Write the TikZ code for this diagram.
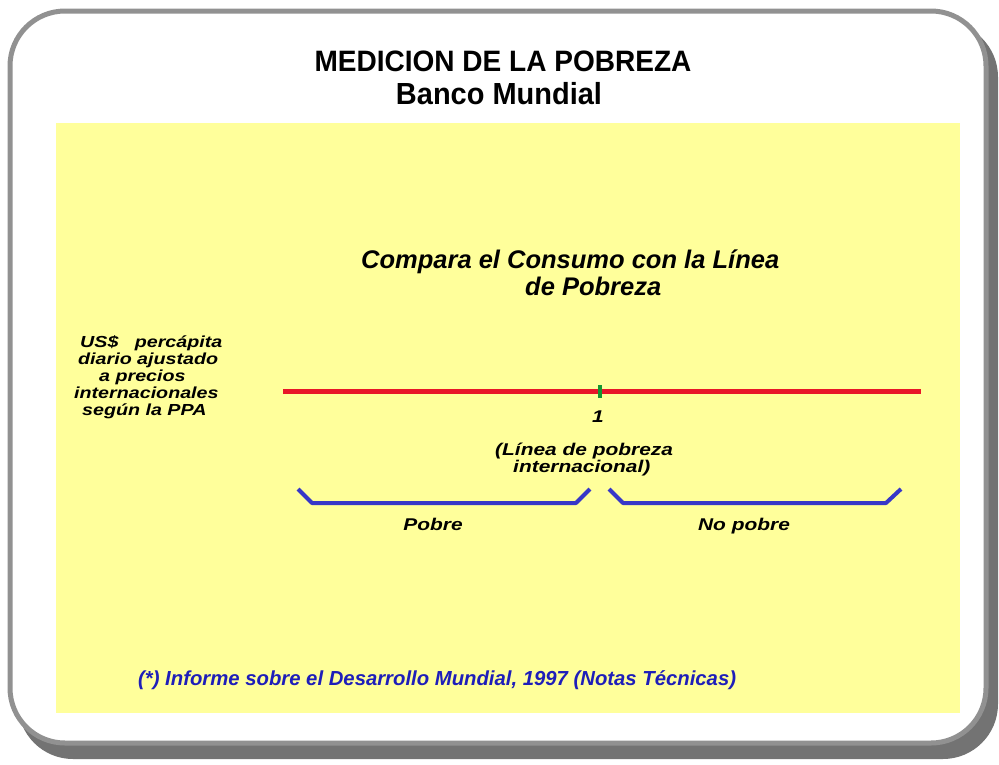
\documentclass[tikz,border=0pt]{standalone}
\usepackage{fontspec}
\setmainfont{Liberation Sans}
\newfontfamily\widefont[FakeStretch=1.23]{Liberation Sans}
\newfontfamily\narrowfont[FakeStretch=0.95]{Liberation Sans}
\definecolor{paleyellow}{RGB}{255,255,155}
\definecolor{framegray}{RGB}{145,145,145}
\definecolor{shadowgray}{RGB}{115,115,115}
\definecolor{axisred}{RGB}{232,22,40}
\definecolor{tickgreen}{RGB}{20,150,50}
\definecolor{bracketblue}{RGB}{55,55,200}
\definecolor{notenavy}{RGB}{30,30,185}
\tikzset{
  lbl/.style={font=\widefont\fontsize{16}{17}\selectfont\bfseries\itshape, inner sep=0pt, anchor=base west},
  mid/.style={font=\widefont\fontsize{17}{17}\selectfont\bfseries\itshape, inner sep=0pt, anchor=base west},
  bracket/.style={draw=bracketblue, line width=4pt, line join=round},
}
\begin{document}
\begin{tikzpicture}[x=1pt,y=-1pt]
\useasboundingbox (0,0) rectangle (999,764);
\fill[white] (0,0) rectangle (999,764);
% frame with shadow
\fill[shadowgray, rounded corners=55pt] (18,22) rectangle (998,759);
\draw[framegray, fill=white, line width=5pt, rounded corners=55pt] (10,11) rectangle (986,743);
% yellow panel
\fill[paleyellow] (56,123) rectangle (960,713);
% titles
\node[font=\narrowfont\fontsize{29.5}{30}\selectfont\bfseries, inner sep=0pt, anchor=base] (t1) at (503,71) {MEDICION DE LA POBREZA};
\node[font=\narrowfont\fontsize{30.5}{30}\selectfont\bfseries, inner sep=0pt, anchor=base] (t2) at (499,104) {Banco Mundial};
% heading
\node[font=\fontsize{25.5}{27}\selectfont\bfseries\itshape, inner sep=0pt, anchor=base west] (h1) at (361,268) {Compara el Consumo con la Línea};
\node[font=\fontsize{25.5}{27}\selectfont\bfseries\itshape, inner sep=0pt, anchor=base west] (h2) at (525,295) {de Pobreza};
% left label
\node[lbl] (us1) at (80,347) {US\$\ \ \ percápita};
\node[lbl] (us2) at (78,364) {diario ajustado};
\node[lbl] (us3) at (99,381) {a precios};
\node[lbl] (us4) at (74,398) {internacionales};
\node[lbl] (us5) at (82,415) {según la PPA};
% axis
\coordinate (a0) at (283,391);
\coordinate (a1) at (921,391);
\draw[axisred, line width=5pt] (a0) -- (a1);
\coordinate (tk0) at (600,385);
\coordinate (tk1) at (600,398);
\draw[tickgreen, line width=4pt] (tk0) -- (tk1);
\node[font=\widefont\fontsize{17}{17}\selectfont\bfseries\itshape, inner sep=0pt, anchor=base] (one) at (598,422) {1};
\node[mid] (lp1) at (495,455) {(Línea de pobreza};
\node[mid] (lp2) at (513,472) {internacional)};
% brackets
\coordinate (b1) at (298,489);
\coordinate (b2) at (312,503);
\coordinate (b3) at (576,503);
\coordinate (b4) at (590,489);
\draw[bracket] (b1) -- (b2) -- (b3) -- (b4);
\coordinate (c1) at (609,489);
\coordinate (c2) at (623,503);
\coordinate (c3) at (886,503);
\coordinate (c4) at (901,489);
\draw[bracket] (c1) -- (c2) -- (c3) -- (c4);
\node[font=\widefont\fontsize{17}{17}\selectfont\bfseries\itshape, inner sep=0pt, anchor=base] (pobre) at (433,530) {Pobre};
\node[font=\widefont\fontsize{17}{17}\selectfont\bfseries\itshape, inner sep=0pt, anchor=base] (nopobre) at (744,530) {No pobre};
% footnote
\node[font=\fontsize{20.3}{22}\selectfont\bfseries\itshape, text=notenavy, inner sep=0pt, anchor=base west] (note) at (138,685) {(*) Informe sobre el Desarrollo Mundial, 1997 (Notas Técnicas)};
\end{tikzpicture}
\end{document}
